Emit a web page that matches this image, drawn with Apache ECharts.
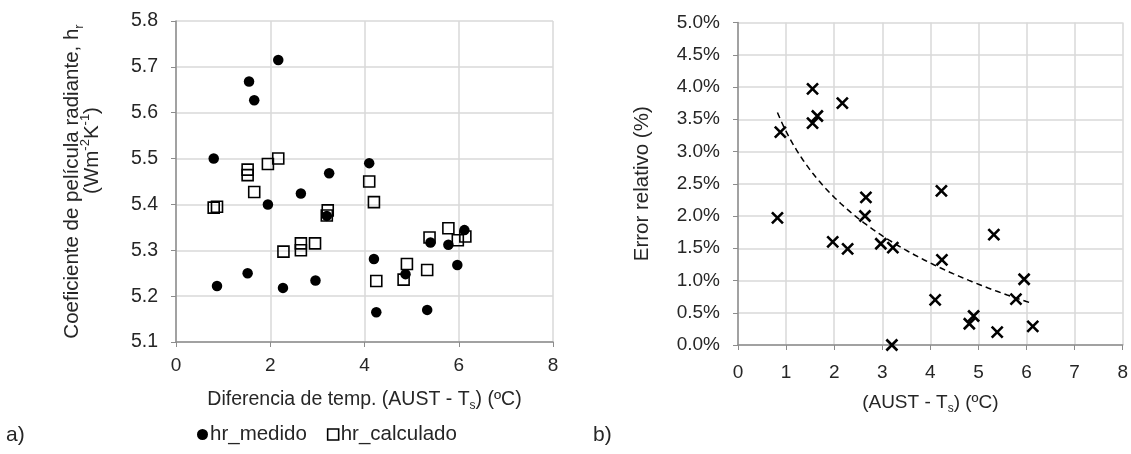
<!DOCTYPE html>
<html>
<head>
<meta charset="utf-8">
<script src="https://cdn.jsdelivr.net/npm/echarts@6/dist/echarts.min.js"></script>
<style>
  html, body { margin: 0; padding: 0; background: #fff; }
  #chart { width: 1131px; height: 454px; }
</style>
</head>
<body>
<div id="chart"></div>
<script>
// a) radiant film coefficient vs temperature difference
const xMedido = [0.80, 0.87, 1.55, 1.52, 1.66, 2.17, 1.95, 2.27, 2.65, 2.96, 3.20,
                 3.25, 4.10, 4.20, 4.25, 4.87, 5.33, 5.40, 5.78, 5.97, 6.12];
const hrMedido = [5.500, 5.222, 5.668, 5.250, 5.627, 5.715, 5.400, 5.218, 5.424, 5.234, 5.375,
                  5.468, 5.490, 5.281, 5.165, 5.248, 5.170, 5.317, 5.312, 5.268, 5.344];

const xCalculado = [0.80, 0.87, 1.52, 1.52, 1.66, 1.95, 2.17, 2.28, 2.65, 2.65, 2.95, 3.22,
                    3.20, 4.10, 4.20, 4.25, 4.83, 4.90, 5.33, 5.38, 5.78, 5.98, 6.14];
const hrCalculado = [5.393, 5.395, 5.476, 5.464, 5.427, 5.488, 5.500, 5.297, 5.315, 5.300, 5.315, 5.387,
                     5.376, 5.450, 5.405, 5.233, 5.236, 5.270, 5.257, 5.328, 5.348, 5.322, 5.330];

// b) relative error (%) vs temperature difference
const xError = [1.55, 2.17, 1.65, 1.55, 0.88, 0.82, 2.66, 4.23, 2.64, 1.97, 2.28, 2.97,
                3.22, 5.32, 4.24, 5.95, 4.10, 5.78, 4.90, 4.81, 6.13, 5.39, 3.20];
const errorRel = [3.97, 3.75, 3.55, 3.44, 3.30, 1.97, 2.29, 2.39, 2.00, 1.60, 1.49, 1.57,
                  1.51, 1.71, 1.32, 1.02, 0.70, 0.71, 0.45, 0.33, 0.29, 0.20, 0.00];

const pairs = (xs, ys) => xs.map((x, i) => [x, ys[i]]);

// logarithmic least-squares trendline y = a + b ln(x)
function logTrend(xs, ys, steps) {
  const lx = xs.map(Math.log);
  const n = xs.length;
  const mx = lx.reduce((s, v) => s + v, 0) / n;
  const my = ys.reduce((s, v) => s + v, 0) / n;
  let sxy = 0, sxx = 0;
  for (let i = 0; i < n; i++) {
    sxy += (lx[i] - mx) * (ys[i] - my);
    sxx += (lx[i] - mx) * (lx[i] - mx);
  }
  const b = sxy / sxx, a = my - b * mx;
  const lo = Math.min(...xs), hi = Math.max(...xs);
  const out = [];
  for (let k = 0; k <= steps; k++) {
    const x = lo + (hi - lo) * k / steps;
    out.push([x, a + b * Math.log(x)]);
  }
  return out;
}

const FONT = 'Liberation Sans';
const axisGray = '#8c8c8c';
const gridGray = '#d9d9d9';
const textColor = '#262626';

function axisCommon(labelMargin) {
  return {
    axisLine: { show: true, onZero: false, lineStyle: { color: axisGray, width: 1.5 } },
    axisTick: { show: true, inside: false, length: 5, lineStyle: { color: axisGray, width: 1 } },
    splitLine: { show: true, lineStyle: { color: gridGray, width: 1.5 } },
    axisLabel: { color: textColor, fontFamily: FONT, fontSize: 19, margin: labelMargin },
    nameTextStyle: { color: textColor, fontFamily: FONT, fontSize: 20 }
  };
}

// rich styles for names with sub/superscripts; a short script box pushes them off the baseline
function richSet(size, lh, scriptH) {
  const small = Math.round(size * 0.62);
  return {
    n: { fontFamily: FONT, fontSize: size, color: textColor, lineHeight: lh },
    sub: { fontFamily: FONT, fontSize: small, color: textColor, lineHeight: scriptH, height: scriptH, verticalAlign: 'bottom' },
    sup: { fontFamily: FONT, fontSize: small, color: textColor, lineHeight: scriptH, height: scriptH, verticalAlign: 'top' }
  };
}

const chart = echarts.init(document.getElementById('chart'), null, { renderer: 'canvas' });

chart.setOption({
  animation: false,
  backgroundColor: '#fff',
  grid: [
    { left: 176, top: 21, width: 377, height: 321, containLabel: false },
    { left: 738, top: 22.5, width: 387, height: 322.5, containLabel: false }
  ],
  xAxis: [
    Object.assign(axisCommon(14), {
      gridIndex: 0, type: 'value', min: 0, max: 8, interval: 2,
      name: '{n|Diferencia de temp. (AUST - T}{sub|s}{n|) (ºC)}',
      nameLocation: 'middle', nameGap: 46,
      nameTextStyle: { rich: richSet(19.5, 22.5, 10) }
    }),
    Object.assign(axisCommon(18), {
      gridIndex: 1, type: 'value', min: 0, max: 8, interval: 1,
      name: '{n|(AUST - T}{sub|s}{n|) (ºC)}',
      nameLocation: 'middle', nameGap: 47,
      nameTextStyle: { rich: richSet(19, 22, 10) }
    })
  ],
  yAxis: [
    Object.assign(axisCommon(18), {
      gridIndex: 0, type: 'value', min: 5.1, max: 5.8, interval: 0.1,
      axisLabel: { color: textColor, fontFamily: FONT, fontSize: 19.5, margin: 18,
                   formatter: v => v.toFixed(1) },
      name: '{n|Coeficiente de película radiante, h}{sub|r}\n{p|(Wm}{sup|-2}{n|K}{sup|-1}{n|)}',
      nameLocation: 'middle', nameGap: 74, nameRotate: 90,
      nameTextStyle: { rich: Object.assign(richSet(20.5, 20, 6), {
        p: { fontFamily: FONT, fontSize: 20.5, color: textColor, lineHeight: 20, padding: [0, 0, 0, 62] }
      }) }
    }),
    Object.assign(axisCommon(18), {
      gridIndex: 1, type: 'value', min: 0, max: 5, interval: 0.5,
      axisLabel: { color: textColor, fontFamily: FONT, fontSize: 19, margin: 18,
                   formatter: v => v.toFixed(1) + '%' },
      name: 'Error relativo (%)',
      nameLocation: 'middle', nameGap: 85, nameRotate: 90,
      nameTextStyle: { color: textColor, fontFamily: FONT, fontSize: 20.5 }
    })
  ],
  legend: {
    left: 192, top: 419,
    itemGap: 20, itemWidth: 11, itemHeight: 11,
    textStyle: { color: textColor, fontFamily: FONT, fontSize: 20.5, padding: [0, 0, 0, -3] },
    data: [
      { name: 'hr_medido', icon: 'circle', itemStyle: { color: '#000', borderWidth: 0, opacity: 1 } },
      { name: 'hr_calculado', icon: 'rect', itemStyle: { color: 'rgba(0,0,0,0)', borderColor: '#000', borderWidth: 1.6, opacity: 1 } }
    ]
  },
  graphic: [
    { type: 'text', left: 6, top: 425, style: { text: 'a)', fontFamily: FONT, fontSize: 21, fill: textColor } },
    { type: 'text', left: 593, top: 425, style: { text: 'b)', fontFamily: FONT, fontSize: 21, fill: textColor } }
  ],
  series: [
    {
      name: 'hr_medido', type: 'scatter', xAxisIndex: 0, yAxisIndex: 0,
      symbol: 'circle', symbolSize: 10.5,
      itemStyle: { color: '#000', opacity: 1 },
      data: pairs(xMedido, hrMedido), z: 2
    },
    {
      name: 'hr_calculado', type: 'scatter', xAxisIndex: 0, yAxisIndex: 0,
      symbol: 'rect', symbolSize: 11,
      itemStyle: { color: 'rgba(0,0,0,0)', borderColor: '#000', borderWidth: 1.6, opacity: 1 },
      data: pairs(xCalculado, hrCalculado), z: 3
    },
    {
      name: 'Error relativo', type: 'scatter', xAxisIndex: 1, yAxisIndex: 1,
      symbol: 'path://M0,0L10,10M10,0L0,10', symbolSize: 11,
      itemStyle: { color: 'rgba(0,0,0,0)', borderColor: '#000', borderWidth: 2.6, opacity: 1 },
      data: pairs(xError, errorRel), z: 3
    },
    {
      name: 'Tendencia', type: 'line', xAxisIndex: 1, yAxisIndex: 1,
      showSymbol: false, symbol: 'none', smooth: false,
      lineStyle: { color: '#000', width: 1.5, type: [6, 4] },
      data: logTrend(xError, errorRel, 80), z: 2
    }
  ]
});
</script>
</body>
</html>
